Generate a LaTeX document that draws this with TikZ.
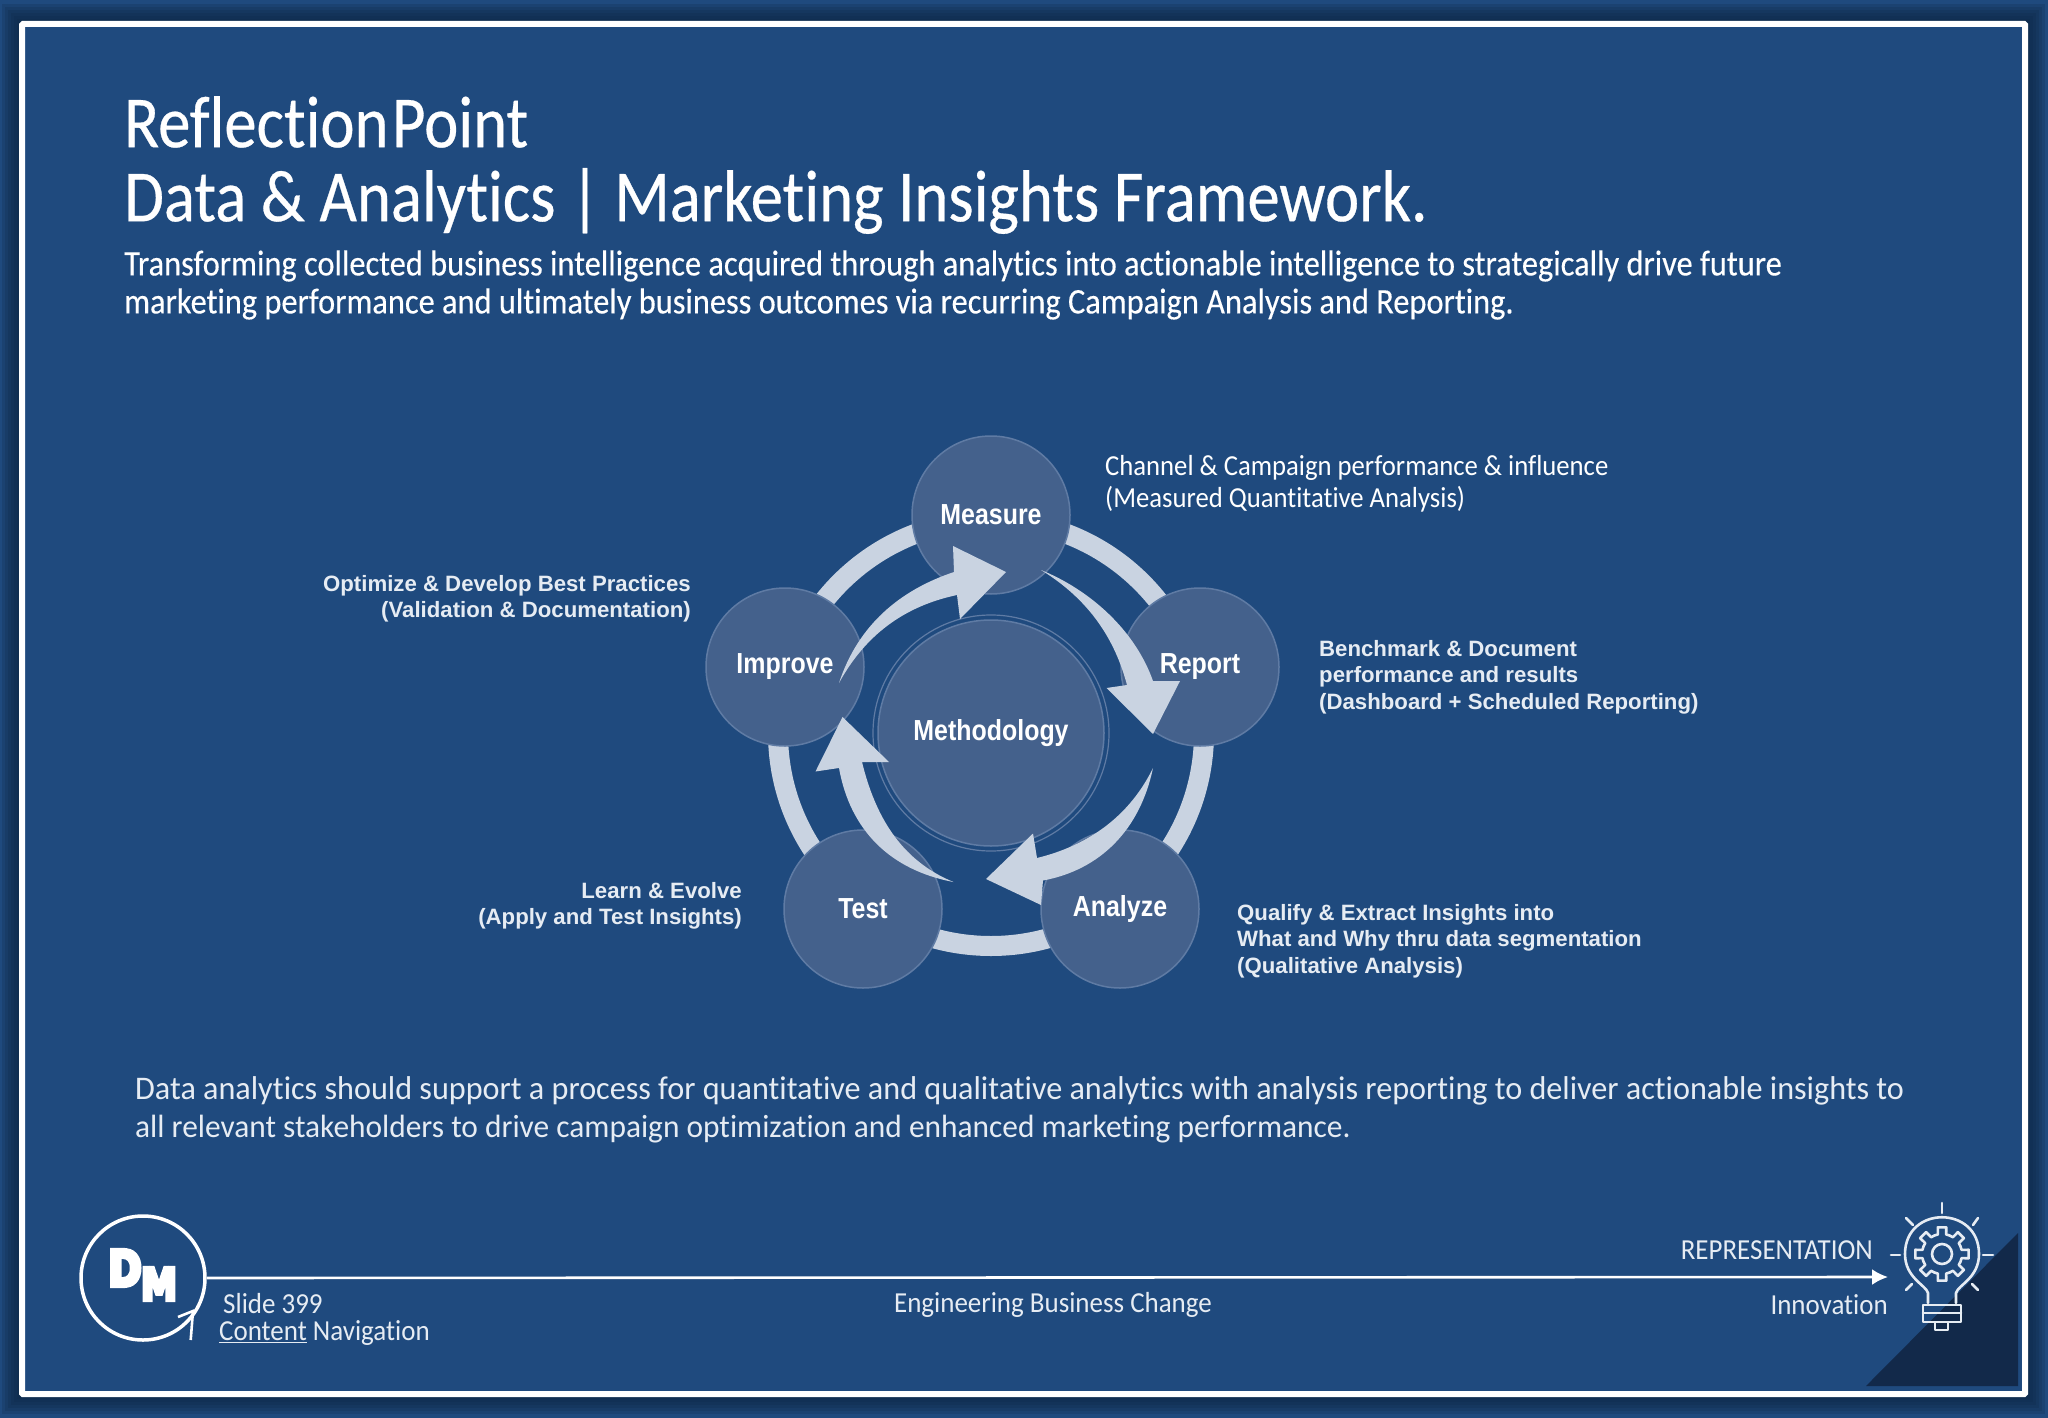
\documentclass[tikz,border=0pt]{standalone}
\usepackage{fontspec}
\usetikzlibrary{arrows.meta}
\newfontfamily\headfont[FakeStretch=0.88,FakeBold=0.4,Ligatures=NoCommon]{Carlito}
\newfontfamily\introfont[FakeStretch=0.9,FakeBold=0.3,Ligatures=NoCommon]{Carlito}
\newfontfamily\chanfont[FakeStretch=0.92,Ligatures=NoCommon]{Carlito}
\newfontfamily\lightfont[FakeStretch=0.975,Ligatures=NoCommon]{Carlito}
\newfontfamily\footfont[FakeStretch=0.93,Ligatures=NoCommon]{Carlito}
\newfontfamily\boldfont{Liberation Sans}
\newfontfamily\discfont[FakeStretch=0.86]{Liberation Sans}
\newfontfamily\logofont[FakeStretch=0.8,BoldFeatures={FakeBold=8}]{DejaVu Sans}
\definecolor{slide}{HTML}{1F4A7E}
\definecolor{framedark}{HTML}{0E2747}
\definecolor{corner}{HTML}{12294A}
\definecolor{disc}{HTML}{44618C}
\definecolor{discline}{HTML}{5F7BA4}
\definecolor{ringcol}{HTML}{C9D3E1}
\definecolor{pale}{HTML}{E6ECF3}

\begin{document}
\begin{tikzpicture}[
		x=1pt, y=-1pt,
		step disc/.style={circle,draw=discline,fill=disc,line width=1.5pt,
		inner sep=0pt,minimum size=158pt,text=white,
		font=\discfont\bfseries\fontsize{29}{30}\selectfont},
		ring/.style={draw=ringcol,line width=20pt},
		blade/.style={fill=ringcol,draw=none},
		title/.style={text=white,anchor=west,inner sep=0pt,
		font=\headfont\fontsize{73.5}{76}\selectfont},
		intro/.style={text=white,anchor=west,align=left,inner sep=0pt,
		font=\introfont\fontsize{36}{38}\selectfont},
		closing/.style={text=pale,anchor=west,align=left,inner sep=0pt,
		font=\lightfont\fontsize{33}{37.5}\selectfont},
		note/.style={text=pale,inner sep=0pt,
		font=\boldfont\bfseries\fontsize{22.2}{26.5}\selectfont},
		footer/.style={text=pale,inner sep=0pt,
		font=\footfont\fontsize{29}{27}\selectfont},
		icon/.style={draw=pale,line width=2.6pt,line cap=round,line join=round}
		]
		\useasboundingbox (0,0) rectangle (2048,1418);
		\fill[slide] (0,0) rectangle (2048,1418);
		\foreach \w in {40,34,28,22,16,10}
			\draw[framedark,opacity=0.22,line width=\w pt] (22,24) rectangle (2025,1394);
		\fill[slide] (25,27) rectangle (2022,1391);
		\fill[corner] (1866,1386) -- (2018,1233) -- (2018,1386) -- cycle;
		\draw[white,line width=6pt,rounded corners=1pt] (22,24) rectangle (2025,1394);

		\node[title] (head1) at (124,122) {Reflection\hspace{-11pt} Point};
		\node[title] (head2) at (124,201) {Data \& Analytics | Marketing Insights Framework.};
		\node[intro] (intro) at (124,285) {Transforming collected business intelligence acquired through analytics into actionable intelligence to strategically drive future\\
			marketing performance and ultimately business outcomes via recurring Campaign Analysis and Reporting.};

		\draw[ring] (991,733) circle (213);
		\node[step disc] (measure) at (991,515) {Measure};
		\node[step disc] (improve) at (785,667) {Improve};
		\node[step disc] (report) at (1200,667) {Report};
		\node[step disc] (test) at (863,909) {Test};
		\node[step disc] (analyze) at (1120,909) {Analyze};
		\node[step disc, minimum size=226pt] (method) at (991,733) {Methodology};
		\draw[discline,line width=1.2pt] (method.center) circle (118);

		\coordinate (imptail) at (839,683);
		\coordinate (meatip) at (1006,572);
		\coordinate (meatail) at (1041,570);
		\coordinate (reptip) at (1153,734);
		\coordinate (reptail) at (1153,768);
		\coordinate (anatip) at (986,879);
		\coordinate (anatail) at (953.5,882);
		\coordinate (imptip) at (842.5,717);
		\fill[blade] (imptail) .. controls (858,625) and (900,590) .. (954,572)
			-- (953,546) -- (meatip) -- (960,619) -- (957,595)
			.. controls (910,605) and (868,630) .. (imptail);
		\fill[blade] (meatail) .. controls (1090,590) and (1135,630) .. (1153,681)
			-- (1180,681) -- (reptip) -- (1106.5,688) -- (1127,685)
			.. controls (1115,640) and (1090,600) .. (meatail);
		\fill[blade] (reptail) .. controls (1130,815) and (1090,845) .. (1037,858)
			-- (1033,833.5) -- (anatip) -- (1041,905) -- (1043,880.5)
			.. controls (1100,870) and (1140,830) .. (reptail);
		\fill[blade] (anatail) .. controls (900,860) and (875,815) .. (862,762)
			-- (889,762) -- (imptip) -- (815.5,771.5) -- (839,768)
			.. controls (850,830) and (890,870) .. (anatail);

		\node[text=white,anchor=west,align=left,inner sep=0pt,
			font=\chanfont\fontsize{29}{31.5}\selectfont] (chan) at (1105,484)
			{Channel \& Campaign performance \& influence\\(Measured Quantitative Analysis)};
		\node[note,anchor=east,align=right] (opti) at (691,599)
			{Optimize \& Develop Best Practices\\(Validation \& Documentation)};
		\node[note,anchor=west,align=left] (bench) at (1319,677)
			{Benchmark \& Document\\performance and results\\(Dashboard + Scheduled Reporting)};
		\node[note,anchor=west,align=left] (qual) at (1237,941)
			{Qualify \& Extract Insights into\\What and Why thru data segmentation\\(Qualitative Analysis)};
		\node[note,anchor=east,align=right] (learn) at (742,906)
			{Learn \& Evolve\\(Apply and Test Insights)};

		\node[closing] (close) at (135,1110) {Data analytics should support a process for quantitative and qualitative analytics with analysis reporting to deliver actionable insights to\\
			{\fontsize{32.2}{37.5}\selectfont all relevant stakeholders to drive campaign optimization and enhanced marketing performance.}};

		\node[circle,draw=white,line width=3.5pt,minimum size=124pt,inner sep=0pt] (dm) at (143,1278) {};
		\node[text=white,inner sep=0pt,font=\logofont\bfseries\fontsize{50}{50}\selectfont] (logod) at (125,1268) {D};
		\node[text=white,inner sep=0pt,font=\logofont\bfseries\fontsize{45}{45}\selectfont] (logom) at (159,1284) {M};
		\coordinate (dmhead) at (193,1311);
		\coordinate (dmfoot) at (190.7,1340);
		\draw[white,line width=2.6pt] (178,1317) -- (dmhead) -- (dmfoot);
		\coordinate (bulbtip) at (1888,1277);
		\draw[white,line width=2.6pt,-{Latex[length=16pt,width=16pt]}] (dm.east) -- (bulbtip);

		\node[footer,anchor=west,align=left] (nav) at (219,1319) {\hspace*{4pt}Slide 399\\\underline{Content} Navigation};
		\node[footer] (eng) at (1053,1305) {Engineering Business Change};
		\node[footer,anchor=east] (repr) at (1873,1250) {REPRESENTATION};
		\node[footer,anchor=east] (innov) at (1888,1305) {Innovation};

		\coordinate (bulb) at (1942,1254);
		\draw[icon] (1928,1303) -- (1928,1293) .. controls (1926,1285) and (1905,1278) .. (1905,1254)
			.. controls (1905,1205) and (1979,1205) .. (1979,1254)
			.. controls (1979,1278) and (1958,1285) .. (1956,1293) -- (1956,1303);
		\draw[icon] (1923,1305) rectangle (1961,1322);
		\draw[icon] (1923,1313) -- (1961,1313);
		\draw[icon] (1935,1322) rectangle (1948,1330);
		\foreach \a in {0,45,...,315} {
			\draw[icon,shift={(bulb)},rotate=\a] (-22.5:20) -- (-12:20) -- (-9:27) -- (9:27) -- (12:20) -- (22.5:20);
		}
		\draw[icon] (bulb) circle (10);
		\draw[icon] (1942,1203) -- (1942,1213);
		\draw[icon] (1891,1255) -- (1900,1255);
		\draw[icon] (1983,1255) -- (1993,1255);
		\draw[icon] (1906,1218) -- (1913,1225);
		\draw[icon] (1978,1218) -- (1973,1225);
		\draw[icon] (1906,1290) -- (1912,1284);
		\draw[icon] (1978,1290) -- (1972,1284);
	\end{tikzpicture}
\end{document}
